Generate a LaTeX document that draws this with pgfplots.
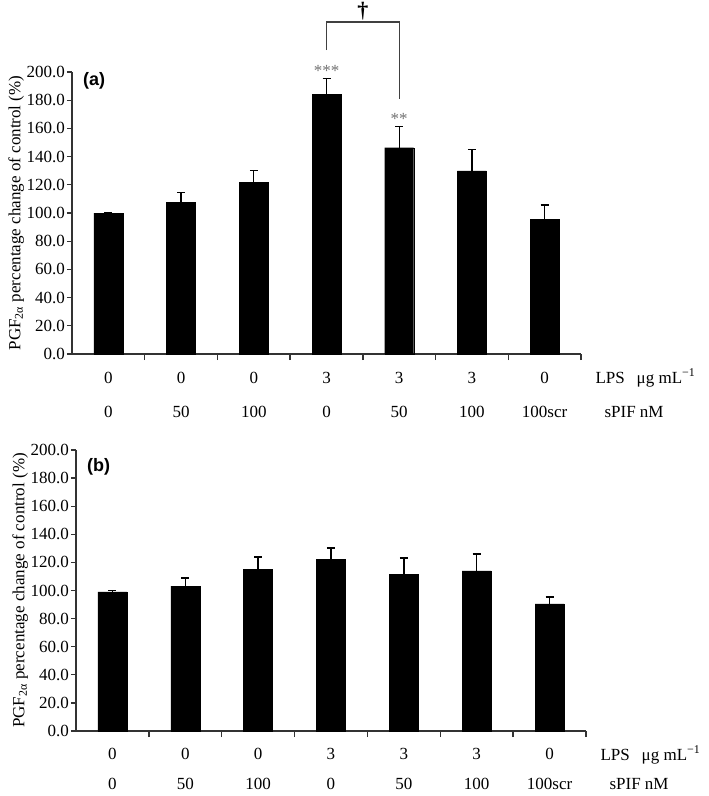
\documentclass[border=0pt]{standalone}
\usepackage{fontspec}
\setmainfont{Liberation Serif}
\newfontfamily\lsans{Liberation Sans}
\usepackage{pgfplots}
\pgfplotsset{compat=1.18}
\newcommand\f{\fontsize{17}{20}\selectfont}

\pgfplotstableread{
x y e
1 100.0 0.0
2 107.8 6.9
3 121.8 8.5
4 184.2 11.1
5 146.3 15.2
6 129.8 15.4
7 95.7 10.0
}\dataA

\pgfplotstableread{
x y e
1 99.0 0.8
2 103.2 5.7
3 115.3 8.5
4 122.4 7.8
5 111.7 11.4
6 113.9 12.1
7 90.4 5.0
}\dataB

\pgfplotsset{
  panel/.style={
    scale only axis,
    xmin=0.5, xmax=7.5, ymin=0, ymax=200,
    clip=false,
    axis x line*=bottom, axis y line*=left,
    axis line style={line width=1.3pt, black!80, -},
    tick align=outside,
    ytick={0,20,...,200},
    major tick length=5pt,
    minor tick length=6pt,
    /pgf/number format/assume math mode=true,
    yticklabel style={font=\f, /pgf/number format/fixed, /pgf/number format/fixed zerofill, /pgf/number format/precision=1, inner sep=2pt},
    ytick style={line width=1.3pt, black!80},
    xtick={1,...,7},
    minor xtick={1.5,2.5,...,7.5},
    major x tick style={draw=none},
    minor x tick style={line width=1.3pt, black!80},
    xticklabels={{0\\0},{0\\50},{0\\100},{3\\0},{3\\50},{3\\100},{0\\100scr}},
    xticklabel style={align=center, font=\fontsize{17}{34}\selectfont, yshift=-10pt},
    ylabel={PGF\textsubscript{2α} percentage change of control (\%)},
    ylabel style={font=\f, xshift=0pt, yshift=-3pt},
    ybar,
  },
  bars/.style={
    ybar, bar width=29pt, fill=black, draw=black,
    error bars/.cd, y dir=plus, y explicit,
    error mark=-,
    error bar style={line width=1.3pt, black},
    error mark options={rotate=90, line width=1.3pt, mark size=4pt, black},
  },
}

\begin{document}
\begin{tikzpicture}
\path[use as bounding box] (0,0) rectangle (709pt,-796pt);

\begin{axis}[panel, width=509pt, height=282pt, at={(72pt,-354pt)}, anchor=south west]
\addplot[bars] table[x=x, y=y, y error=e]{\dataA};
\node[anchor=west, font=\lsans\bfseries\fontsize{18}{20}\selectfont, inner sep=0pt] at (rel axis cs:0.0216,0.968) {(a)};
\node[font=\f, black!55] at (axis cs:4,201) {***};
\node[font=\f, black!55] at (axis cs:5,167) {**};
\draw[line width=1.3pt, black!75] (axis cs:4,215.6) |- (axis cs:5,235.5) -- (axis cs:5,180.9);
\node[font=\bfseries\fontsize{22}{26}\selectfont, anchor=base, inner sep=0pt] at (axis cs:4.5,238.5) {†};
\node[anchor=west, font=\f] at (rel axis cs:1,0) [xshift=11pt, yshift=-24pt] {LPS\hspace{0.7em}μg mL\textsuperscript{−1}};
\node[anchor=west, font=\f] at (rel axis cs:1,0) [xshift=20pt, yshift=-58pt] {sPIF nM};
\end{axis}

\begin{axis}[panel, width=510pt, height=281pt, at={(76pt,-731pt)}, anchor=south west,
  xticklabel style={font=\fontsize{17}{30}\selectfont, yshift=1pt}]
\addplot[bars] table[x=x, y=y, y error=e]{\dataB};
\node[anchor=west, font=\lsans\bfseries\fontsize{18}{20}\selectfont, inner sep=0pt] at (rel axis cs:0.0216,0.94) {(b)};
\node[anchor=west, font=\f] at (rel axis cs:1,0) [xshift=11pt, yshift=-24pt] {LPS\hspace{0.7em}μg mL\textsuperscript{−1}};
\node[anchor=west, font=\f] at (rel axis cs:1,0) [xshift=20pt, yshift=-53pt] {sPIF nM};
\end{axis}
\end{tikzpicture}
\end{document}
